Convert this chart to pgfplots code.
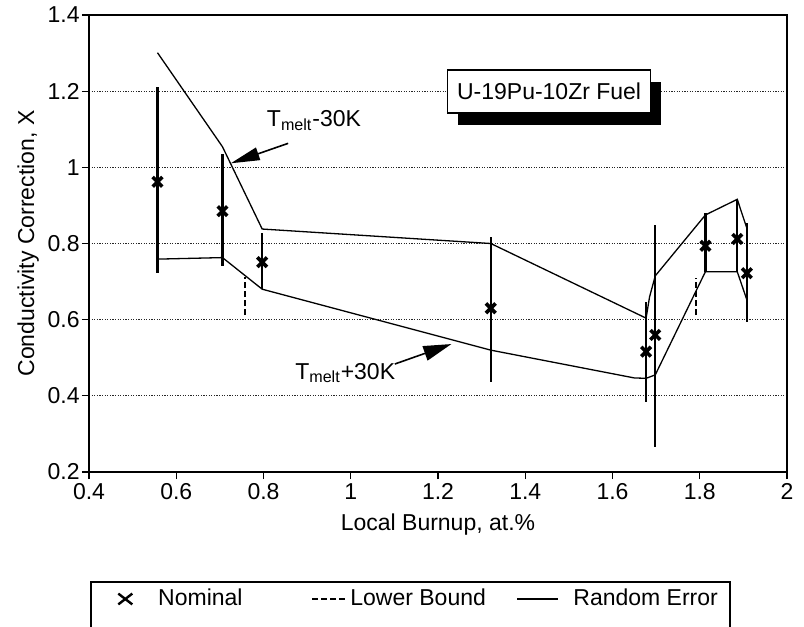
\documentclass[border=0pt]{standalone}
\usepackage{fontspec}
\setmainfont{Liberation Sans}
\usepackage{pgfplots}
\pgfplotsset{compat=1.18}
\usetikzlibrary{arrows.meta,shadows}
\newcommand{\fs}{\fontsize{11.5}{14}\selectfont}
\begin{document}
\fs
\begin{tikzpicture}[font=\fs]
\begin{axis}[
  at={(44.5pt,-236pt)}, anchor=south west,
  scale only axis, width=349pt, height=228.5pt,
  xmin=0.4, xmax=2, ymin=0.2, ymax=1.4,
  xtick={0.4,0.6,0.8,1,1.2,1.4,1.6,1.8,2},
  ytick={0.2,0.4,0.6,0.8,1,1.2,1.4},
  /pgf/number format/assume math mode=true,
  tick align=outside, tick pos=left,
  major tick length=3.5pt,
  every tick/.style={black, line width=0.65pt},
  axis line style={line width=0.65pt},
  ymajorgrids,
  grid style={black!85, line width=0.5pt, dash pattern=on 0.6pt off 0.7pt},
  tick label style={font=\fs},
  label style={font=\fs},
  yticklabel style={inner sep=1pt},
  xticklabel style={inner sep=2pt},
  xlabel={Local Burnup, at.\%},
  ylabel={Conductivity Correction, X},
  xlabel style={at={(axis description cs:0.5,-0.129)}, anchor=base},
  ylabel style={at={(axis description cs:-0.087,0.5)}, anchor=center},
  legend columns=3,
  legend style={at={(axis description cs:0.00287,-0.2779)}, anchor=west,
    draw=none, fill=none, inner sep=0pt, column sep=0pt,
    nodes={inner sep=0pt, font=\fs}},
  legend cell align=left,
]
% Nominal values with random-error bars
\addplot[only marks, mark=x, mark size=3.4pt, mark options={line width=1.8pt, black}, forget plot,
  error bars/.cd, y dir=both, y explicit, error mark=none,
  error bar style={line width=1.1pt, black}]
  coordinates {
  (0.557,0.962) += (0,0.248) -= (0,0.240)
  (0.706,0.885) += (0,0.150) -= (0,0.144)
  (0.797,0.751) += (0,0.076) -= (0,0.071)
  (1.321,0.630) += (0,0.188) -= (0,0.193)
  (1.677,0.516) += (0,0.131) -= (0,0.131)
  (1.698,0.560) += (0,0.289) -= (0,0.294)
  (1.813,0.794) += (0,0.087) -= (0,0.068)
  (1.886,0.812) += (0,0.104) -= (0,0.086)
  (1.908,0.722) += (0,0.131) -= (0,0.127)
  };
\addlegendimage{legend image code/.code={\path (-16.75pt,-3pt) (16.25pt,3pt);
  \draw[black, line width=1.2pt] (-3.5pt,-2.7pt)--(3.5pt,2.7pt) (-3.5pt,2.7pt)--(3.5pt,-2.7pt);}}
\addlegendentry{\makebox[76.5pt][l]{Nominal}}
% Lower bound
\addplot[black, line width=0.8pt, dash pattern=on 3pt off 1.5pt, unbounded coords=jump, forget plot]
  coordinates {(0.757,0.612) (0.757,0.713) (0.757,nan) (1.792,0.612) (1.792,0.709)};
\addlegendimage{legend image code/.code={\draw[black, line width=0.8pt, dash pattern=on 3pt off 1.5pt] (0pt,0pt)--(17pt,0pt); \path (19pt,0pt);}}
\addlegendentry{\makebox[83pt][l]{Lower Bound}}
% Random error envelope, Tmelt-30K
\addplot[black, line width=0.65pt, forget plot]
  coordinates {(0.557,1.301) (0.706,1.054) (0.797,0.838) (1.321,0.800) (1.677,0.604)
  (1.685,0.660) (1.698,0.715) (1.813,0.875) (1.886,0.916) (1.908,0.840)};
\addlegendimage{legend image code/.code={\draw[black, line width=0.65pt] (0pt,0pt)--(20.5pt,0pt); \path (28pt,0pt);}}
\addlegendentry{\makebox[80pt][l]{Random Error}}
% Tmelt+30K
\addplot[black, line width=0.65pt, forget plot]
  coordinates {(0.557,0.759) (0.706,0.763) (0.797,0.680) (1.321,0.520) (1.650,0.447)
  (1.677,0.446) (1.698,0.455) (1.813,0.726) (1.886,0.726) (1.908,0.652)};
\node[draw, fill=white, line width=0.65pt, minimum width=101.5pt, minimum height=21.5pt,
  inner sep=0pt, font=\fontsize{11.5}{14}\selectfont,
  drop shadow={shadow xshift=5pt, shadow yshift=-6pt, fill=black, opacity=1}]
  at (axis cs:1.4547,1.199) {U-19Pu-10Zr Fuel};
\draw[black, line width=0.8pt, -{Triangle[length=14.5pt,width=6.5pt]}]
  (axis cs:0.8565,1.063) -- (axis cs:0.725,1.0106);
\draw[black, line width=0.8pt, -{Triangle[length=14pt,width=7.5pt]}]
  (axis cs:1.1009,0.4835) -- (axis cs:1.2307,0.536);
\node[anchor=base west, inner sep=0pt, font=\fs] at (axis cs:0.807,1.107) {T\textsubscript{melt}-30K};
\node[anchor=base west, inner sep=0pt, font=\fs] at (axis cs:0.872,0.444) {T\textsubscript{melt}+30K};
\end{axis}
% legend frame (bottom edge falls outside the picture, as in the reference)
\draw[black, line width=0.65pt] (45.5pt,-340pt) -- (45.5pt,-291pt) -- (365pt,-291pt) -- (365pt,-340pt);
\pgfresetboundingbox
\useasboundingbox (0pt,0pt) rectangle (402pt,-313.5pt);
\end{tikzpicture}
\end{document}
